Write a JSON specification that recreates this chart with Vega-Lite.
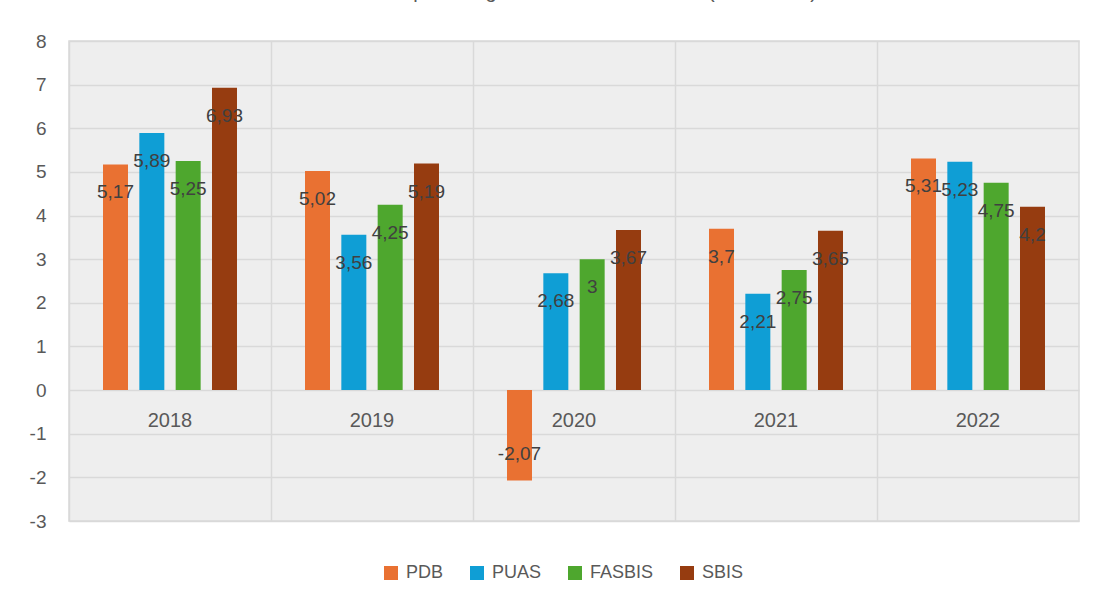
{
  "$schema": "https://vega.github.io/schema/vega-lite/v6.json",
  "width": 1010,
  "height": 480,
  "autosize": {"type": "none"},
  "padding": {"left": 69, "top": 41, "right": 15, "bottom": 81},
  "background": "white",
  "config": {
    "locale": {"number": {"decimal": ",", "thousands": ".", "grouping": [3], "currency": ["", ""], "minus": "-"}},
    "font": "Liberation Sans",
    "view": {"fill": "#eeeeee", "stroke": "#d9d9d9", "strokeWidth": 1.5}
  },
  "title": {"text": "Indikator pembangunan ekonomi nasional (2018-2022)", "fontSize": 20, "fontWeight": "normal", "color": "#595959", "offset": 10, "baseline": "bottom", "anchor": "middle", "frame": "group"},
  "data": {"values": [
    {"year": "2018", "series": "PDB", "value": 5.17},
    {"year": "2018", "series": "PUAS", "value": 5.89},
    {"year": "2018", "series": "FASBIS", "value": 5.25},
    {"year": "2018", "series": "SBIS", "value": 6.93},
    {"year": "2019", "series": "PDB", "value": 5.02},
    {"year": "2019", "series": "PUAS", "value": 3.56},
    {"year": "2019", "series": "FASBIS", "value": 4.25},
    {"year": "2019", "series": "SBIS", "value": 5.19},
    {"year": "2020", "series": "PDB", "value": -2.07},
    {"year": "2020", "series": "PUAS", "value": 2.68},
    {"year": "2020", "series": "FASBIS", "value": 3},
    {"year": "2020", "series": "SBIS", "value": 3.67},
    {"year": "2021", "series": "PDB", "value": 3.7},
    {"year": "2021", "series": "PUAS", "value": 2.21},
    {"year": "2021", "series": "FASBIS", "value": 2.75},
    {"year": "2021", "series": "SBIS", "value": 3.65},
    {"year": "2022", "series": "PDB", "value": 5.31},
    {"year": "2022", "series": "PUAS", "value": 5.23},
    {"year": "2022", "series": "FASBIS", "value": 4.75},
    {"year": "2022", "series": "SBIS", "value": 4.2}
  ]},
  "encoding": {
    "x": {
      "field": "year", "type": "nominal",
      "scale": {"paddingInner": 0, "paddingOuter": 0},
      "axis": {"title": null, "labelAngle": 0, "domain": false, "ticks": false, "tickSize": 0,
               "labelPadding": -101, "labelBaseline": "middle", "labelFontSize": 20, "labelColor": "#595959",
               "grid": true, "gridColor": "#d9d9d9", "gridWidth": 1.5, "bandPosition": 0}
    },
    "xOffset": {"field": "series", "type": "nominal", "sort": ["PDB", "PUAS", "FASBIS", "SBIS"],
                "scale": {"paddingInner": 0.312, "paddingOuter": 0.936}},
    "y": {
      "field": "value", "type": "quantitative",
      "scale": {"domain": [-3, 8], "nice": false, "zero": false},
      "axis": {"title": null, "values": [-3, -2, -1, 0, 1, 2, 3, 4, 5, 6, 7, 8], "domain": false, "ticks": false,
               "labelPadding": 23, "labelFontSize": 19, "labelColor": "#595959",
               "grid": true, "gridColor": "#d9d9d9", "gridWidth": 1.5}
    }
  },
  "layer": [
    {
      "mark": {"type": "bar"},
      "encoding": {
        "color": {"field": "series", "type": "nominal",
                  "scale": {"domain": ["PDB", "PUAS", "FASBIS", "SBIS"], "range": ["#E97132", "#0F9ED5", "#4EA72E", "#963C10"]},
                  "legend": {"title": null, "orient": "none", "legendX": 313, "legendY": 523, "direction": "horizontal",
                             "symbolType": "square", "symbolSize": 196, "symbolStrokeWidth": 0, "labelFontSize": 18,
                             "labelColor": "#595959", "columnPadding": 24, "labelOffset": 6, "padding": 0}}
      }
    },
    {
      "transform": [{"filter": "datum.value >= 0"}],
      "mark": {"type": "text", "dy": 28, "fontSize": 19, "color": "#404040", "baseline": "middle"},
      "encoding": {"text": {"field": "value", "type": "quantitative", "format": "~g"}}
    },
    {
      "transform": [{"filter": "datum.value < 0"}],
      "mark": {"type": "text", "dy": -26, "fontSize": 19, "color": "#404040", "baseline": "middle"},
      "encoding": {"text": {"field": "value", "type": "quantitative", "format": "~g"}}
    }
  ]
}
